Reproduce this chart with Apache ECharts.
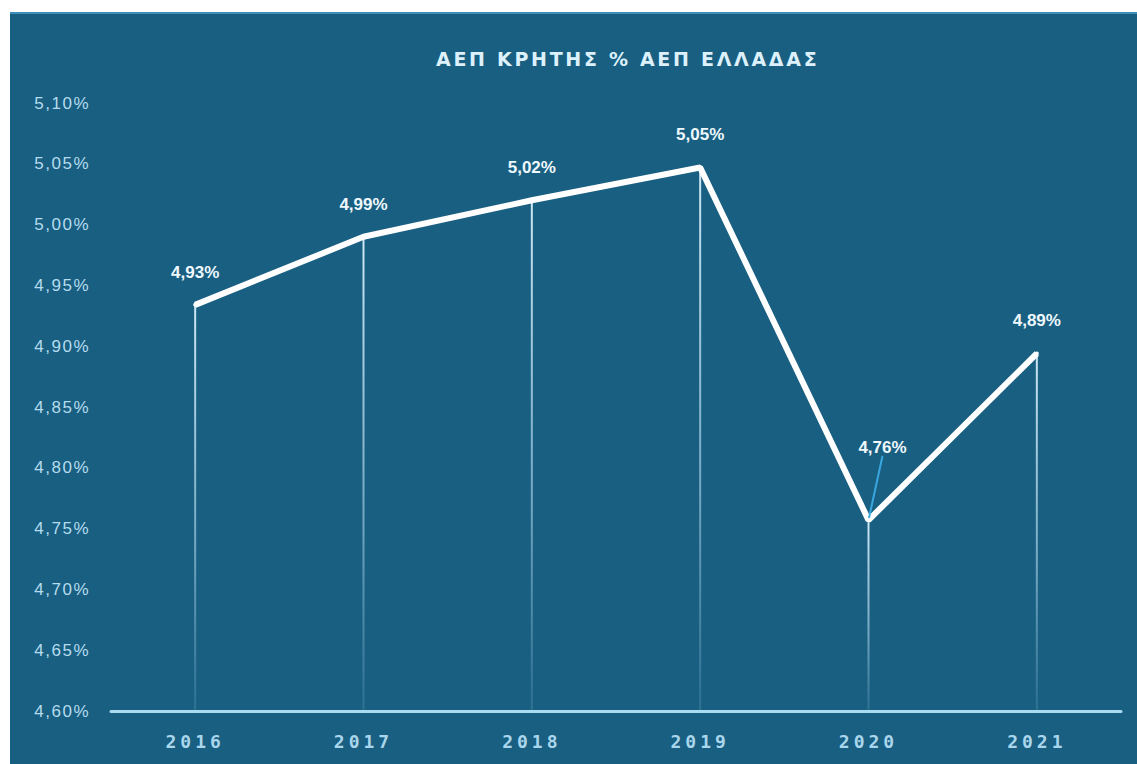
<!DOCTYPE html>
<html>
<head>
<meta charset="utf-8">
<script src="https://cdn.jsdelivr.net/npm/echarts@6/dist/echarts.min.js"></script>
<style>
  html, body { margin: 0; padding: 0; background: #ffffff; width: 1137px; height: 764px; overflow: hidden; }
  #chart { position: absolute; left: 10px; top: 12px; width: 1127px; height: 752px;
           background: #195f81; border-top: 2px solid #3f8fbb; box-sizing: border-box; }
</style>
</head>
<body>
<div id="chart"></div>
<script>
const titleText = 'ΑΕΠ ΚΡΗΤΗΣ % ΑΕΠ ΕΛΛΑΔΑΣ';
const years = ['2016', '2017', '2018', '2019', '2020', '2021'];
const shareValues = [4.934, 4.99, 5.02, 5.047, 4.757, 4.894];
const yMin = 4.60;
const yMax = 5.10;
const yStep = 0.05;

function pct(v) { return v.toFixed(2).replace('.', ',') + '%'; }

const chart = echarts.init(document.getElementById('chart'), null, { renderer: 'svg' });

chart.setOption({
  animation: false,
  backgroundColor: 'transparent',
  title: {
    text: titleText,
    left: 421,
    top: 30,
    textStyle: { color: '#dcf1fb', fontSize: 19, fontWeight: 'bold', fontFamily: 'DejaVu Sans' }
  },
  grid: { left: 101, right: 16, top: 89, bottom: 53, containLabel: false },
  xAxis: {
    type: 'category',
    data: years,
    boundaryGap: true,
    axisLine: { show: true, lineStyle: { color: '#a9dcf2', width: 3 } },
    axisTick: { show: false },
    axisLabel: { color: '#a9d6ec', fontSize: 18, fontWeight: 'bold', fontFamily: 'DejaVu Sans Mono', margin: 21 },
    splitLine: { show: false }
  },
  yAxis: {
    type: 'value',
    min: yMin,
    max: yMax,
    interval: yStep,
    axisLine: { show: false },
    axisTick: { show: false },
    splitLine: { show: false },
    axisLabel: { color: '#b5dcee', fontSize: 17, fontFamily: 'Liberation Sans', margin: 21, formatter: pct }
  },
  series: [
    {
      type: 'bar',
      data: shareValues,
      barWidth: 2,
      z: 1,
      silent: true,
      itemStyle: {
        color: new echarts.graphic.LinearGradient(0, 0, 0, 1, [
          { offset: 0, color: 'rgba(215,238,250,0.95)' },
          { offset: 0.6, color: 'rgba(190,225,245,0.55)' },
          { offset: 1, color: 'rgba(160,210,240,0.15)' }
        ])
      }
    },
    {
      type: 'line',
      data: shareValues.map((v, i) => i === 4
        ? { value: v, labelLine: { show: true, lineStyle: { color: '#3aa6e0', width: 2 } } }
        : v),
      z: 3,
      symbol: 'circle',
      symbolSize: 4,
      itemStyle: { color: '#ffffff' },
      lineStyle: { color: '#ffffff', width: 6 },
      label: {
        show: true,
        position: 'top',
        distance: 22,
        color: '#eef8fd',
        fontSize: 17,
        fontWeight: 'bold',
        fontFamily: 'Liberation Sans',
        formatter: p => pct(p.value)
      },
      labelLine: { show: false },
      labelLayout: function (params) {
        if (params.dataIndex === 4) return { dx: 14, dy: -40 };
        return {};
      }
    }
  ]
});

// letter spacing for spaced texts
function spaceTexts() {
  document.querySelectorAll('#chart text').forEach(t => {
    const s = t.textContent;
    const fill = (t.getAttribute('fill') || '') + (t.getAttribute('style') || '');
    if (s === titleText) t.style.letterSpacing = '2.7px';
    else if (years.includes(s)) t.style.letterSpacing = '4px';
    else if (/^\d,\d\d%$/.test(s) && fill.toLowerCase().indexOf('eef8fd') < 0) t.style.letterSpacing = '1.5px';
  });
}
spaceTexts();
chart.on('finished', spaceTexts);
</script>
</body>
</html>
